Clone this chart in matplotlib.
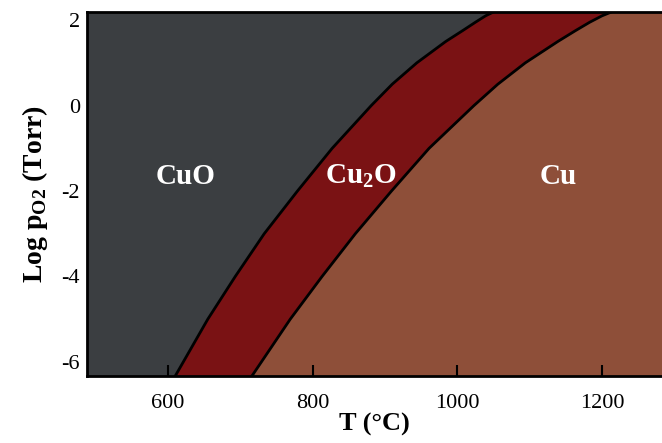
import matplotlib
matplotlib.use("Agg")
import matplotlib.pyplot as plt

# phase boundaries: T (deg C) vs log pO2 (Torr)
t_cuo_cu2o = [610, 655, 693, 733, 779, 827, 881, 910, 944, 984, 1007, 1025, 1039, 1050]
logp_cuo_cu2o = [-6.33, -5.0, -4.0, -3.0, -2.0, -1.0, 0.0, 0.5, 1.0, 1.5, 1.75, 1.95, 2.1, 2.19]

t_cu2o_cu = [716, 769, 813, 859, 909, 961, 1023, 1056, 1094, 1139, 1163, 1183, 1200, 1213]
logp_cu2o_cu = [-6.33, -5.0, -4.0, -3.0, -2.0, -1.0, 0.0, 0.5, 1.0, 1.5, 1.75, 1.95, 2.1, 2.19]

phase_names = ["CuO", "Cu$_{\\mathrm{2}}$O", "Cu"]
phase_t = [624, 866, 1140]
phase_logp = [-1.65, -1.65, -1.65]

xticks = [600, 800, 1000, 1200]
yticks = [2, 0, -2, -4, -6]

c_cuo = "#3b3e41"
c_cu2o = "#7a1214"
c_cu = "#8e4f39"

plt.rcParams["font.family"] = "Liberation Serif"
plt.rcParams["axes.unicode_minus"] = False
plt.rcParams["mathtext.fontset"] = "custom"
plt.rcParams["mathtext.rm"] = "Liberation Serif:bold"
plt.rcParams["mathtext.bf"] = "Liberation Serif:bold"

fig = plt.figure(figsize=(6.62, 4.43), dpi=100)
ax = fig.add_axes([87 / 662, 1 - 376 / 443, 1 - 87 / 662, (376 - 12) / 443])

xmin, xmax = 488, 1283
ymin, ymax = -6.33, 2.19

ax.set_facecolor(c_cu)
ax.fill_betweenx(logp_cu2o_cu, xmin, t_cu2o_cu, color=c_cu2o, lw=0)
ax.fill_betweenx(logp_cuo_cu2o, xmin, t_cuo_cu2o, color=c_cuo, lw=0)
ax.plot(t_cuo_cu2o, logp_cuo_cu2o, color="black", lw=2)
ax.plot(t_cu2o_cu, logp_cu2o_cu, color="black", lw=2)

for name, t, p in zip(phase_names, phase_t, phase_logp):
    ax.text(t, p, name, color="white", fontsize=21, fontweight="bold",
            ha="center", va="center")

ax.set_xlim(xmin, xmax)
ax.set_ylim(ymin, ymax)
ax.set_xticks(xticks)
ax.set_yticks(yticks)
ax.tick_params(axis="x", direction="in", length=8, width=1.5, labelsize=16, pad=13)
ax.tick_params(axis="y", length=0, labelsize=16, pad=5)

for side in ["left", "bottom", "top"]:
    ax.spines[side].set_linewidth(2)
ax.spines["right"].set_visible(False)

ax.set_xlabel("T (°C)", fontsize=19, fontweight="bold", labelpad=0)
ax.set_ylabel("Log p$_{\\mathrm{O2}}$ (Torr)", fontsize=20, fontweight="bold", labelpad=8)

fig.savefig("out.png", dpi=100)
